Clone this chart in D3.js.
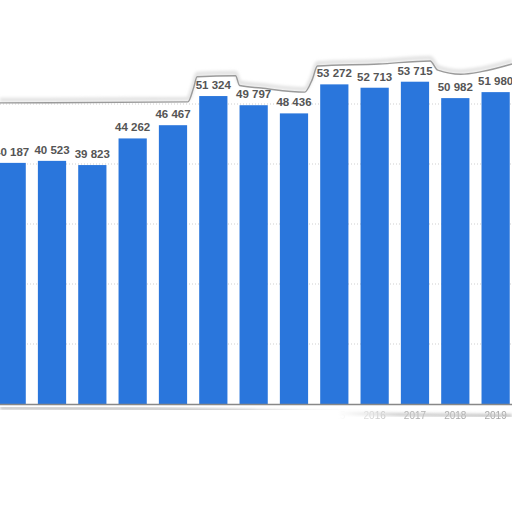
<!DOCTYPE html>
<html><head><meta charset="utf-8">
<script src="https://cdn.jsdelivr.net/npm/d3@7"></script>
<style>html,body{margin:0;padding:0;background:#fff;}svg{display:block;}</style>
</head><body>
<svg id="c" width="512" height="512"></svg>
<script>
const years = ["2007","2008","2009","2010","2011","2012","2013","2014","2015","2016","2017","2018","2019"];
const values = [40187,40523,39823,44262,46467,51324,49797,48436,53272,52713,53715,50982,51980];
const yTicks = [0,10000,20000,30000,40000,50000,60000];
// decorative torn-paper edges (fractions of canvas)
const tornTop = [[0,0.201],[0.367,0.199],[0.378,0.172],[0.385,0.15],[0.46,0.148],[0.468,0.167],[0.51,0.172],[0.595,0.18],[0.61,0.155],[0.62,0.129],[0.74,0.125],[0.84,0.119],[0.855,0.137],[0.9,0.145],[0.94,0.14],[1,0.125]];
const tornBottom = [[0,0.797],[0.3,0.799],[0.5,0.803],[0.65,0.807],[0.8,0.81],[1,0.812]];

const W=512,H=512;
const svg=d3.select("#c");
const defs=svg.append("defs");
defs.append("filter").attr("id","blur").append("feGaussianBlur").attr("stdDeviation",1.6);
defs.append("filter").attr("id","blur2").append("feGaussianBlur").attr("stdDeviation",0.7);
defs.append("filter").attr("id","blur3").append("feGaussianBlur").attr("stdDeviation",0.6);
const grad=defs.append("linearGradient").attr("id","fade").attr("x1","0").attr("x2","1");
grad.append("stop").attr("offset","0").attr("stop-color","#fff").attr("stop-opacity",1);
grad.append("stop").attr("offset","0.66").attr("stop-color","#fff").attr("stop-opacity",1);
grad.append("stop").attr("offset","0.78").attr("stop-color","#fff").attr("stop-opacity",0.2);
grad.append("stop").attr("offset","1").attr("stop-color","#fff").attr("stop-opacity",0.05);

const x=d3.scaleBand().domain(years).range([-8.5,515.8]).paddingInner(0.3).paddingOuter(0.15);
const y=d3.scaleLinear().domain([0,60000]).range([404,44]);

// gridlines
svg.append("g").selectAll("line").data(yTicks.filter(d=>d>0)).join("line")
  .attr("x1",0).attr("x2",W).attr("y1",d=>y(d)).attr("y2",d=>y(d))
  .attr("stroke","#cfcfcf").attr("stroke-width",1).attr("stroke-dasharray","1,2");

// bars
svg.append("g").selectAll("rect").data(values).join("rect")
  .attr("x",(d,i)=>x(years[i])).attr("width",x.bandwidth())
  .attr("y",d=>y(d)).attr("height",d=>y(0)-y(d)).attr("fill","#2a76dc");

// baseline
svg.append("line").attr("x1",0).attr("x2",W).attr("y1",y(0)+0.5).attr("y2",y(0)+0.5)
  .attr("stroke","#888").attr("stroke-width",1.5);

// year labels (faint, partly hidden)
svg.append("g").attr("filter","url(#blur3)").selectAll("text").data(years).join("text")
  .attr("x",d=>x(d)+x.bandwidth()/2).attr("y",419)
  .attr("text-anchor","middle").attr("font-family","Liberation Sans, Arial, sans-serif")
  .attr("font-size","10px").attr("fill","#a0a0a0").text(d=>d);

// torn top: white above, shadow line
const line=d3.line().x(d=>d[0]*W).y(d=>d[1]*H).curve(d3.curveMonotoneX);
const topPts=tornTop;
svg.append("path")
  .attr("d",d3.area().x(d=>d[0]*W).y0(0).y1(d=>d[1]*H).curve(d3.curveMonotoneX)(topPts))
  .attr("fill","#fff");
svg.append("path").attr("d",line(topPts.map(d=>[d[0],d[1]-0.006]))).attr("fill","none")
  .attr("stroke","#e2e2e2").attr("stroke-width",4).attr("filter","url(#blur)");
svg.append("path").attr("d",line(topPts)).attr("fill","none")
  .attr("stroke","#9a9a9a").attr("stroke-width",1.4).attr("filter","url(#blur2)");

// value labels
const fmt=v=>d3.format(",")(v).replace(/,/g," ");
svg.append("g").selectAll("text").data(values).join("text")
  .attr("x",(d,i)=>x(years[i])+x.bandwidth()/2).attr("y",d=>y(d)-7)
  .attr("text-anchor","middle").attr("font-family","Liberation Sans, Arial, sans-serif")
  .attr("font-weight","bold").attr("font-size","11.5px").attr("fill","#555")
  .text(fmt);

// torn bottom shadow
svg.append("path").attr("d",line(tornBottom)).attr("fill","none")
  .attr("stroke","#bbb").attr("stroke-width",3).attr("filter","url(#blur)");
// fade mask over left part of year labels
svg.append("rect").attr("x",0).attr("y",410).attr("width",W).attr("height",20).attr("fill","url(#fade)");
</script>
</body></html>
